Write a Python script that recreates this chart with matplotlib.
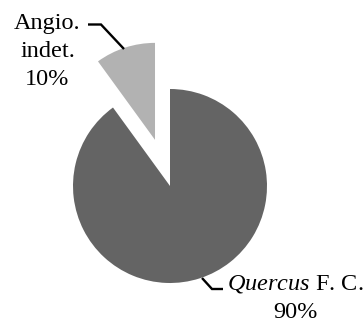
import numpy as np
import matplotlib
matplotlib.use("Agg")
from matplotlib import pyplot as plt

labels = ["Angio.\nindet.\n10%", "$\\mathit{Quercus}$ F. C.\n90%"]
shares = [10, 90]
colors = ["#b2b2b2", "#646464"]
explode = [0.5, 0]

plt.rcParams['font.family'] = ['Liberation Serif', 'DejaVu Serif']
plt.rcParams['mathtext.fontset'] = 'custom'
plt.rcParams['mathtext.it'] = 'Liberation Serif:italic'
plt.rcParams['mathtext.rm'] = 'Liberation Serif'

W, H = 364, 323
cx, cy, R = 170, 186, 97  # pie centre / radius in pixels

fig = plt.figure(figsize=(W/100, H/100), dpi=100)
ax = fig.add_axes([0, 0, 1, 1])

def px(x, y):
    return (x-cx)/R, (cy-y)/R

wedges, _ = ax.pie(shares, colors=colors, explode=explode, startangle=90,
                   counterclock=True, radius=1, wedgeprops=dict(linewidth=0))
ax.set_aspect('auto')
ax.set_xlim(-cx/R, (W-cx)/R)
ax.set_ylim(-(H-cy)/R, cy/R)
ax.axis('off')

# leader lines: wedge edge -> elbow -> short horizontal (pixel layout)
leaders = [[(124, 49), (101, 24.5), (88, 24.5)],
           [(202, 278), (212, 289), (223, 289)]]
for pts in leaders:
    xs, ys = zip(*[px(*p) for p in pts])
    ax.plot(xs, ys, color='black', lw=1.7, solid_joinstyle='miter', solid_capstyle='butt')

# anchored on the baseline of the last line
ax.text(*px(47.5, 85), labels[0], ha='center', va='baseline', fontsize=17.5,
        linespacing=1.44, multialignment='center')
ax.text(*px(295, 318), labels[1], ha='center', va='baseline', fontsize=17.5,
        linespacing=1.46, multialignment='center')

fig.savefig("out.png", dpi=100)
